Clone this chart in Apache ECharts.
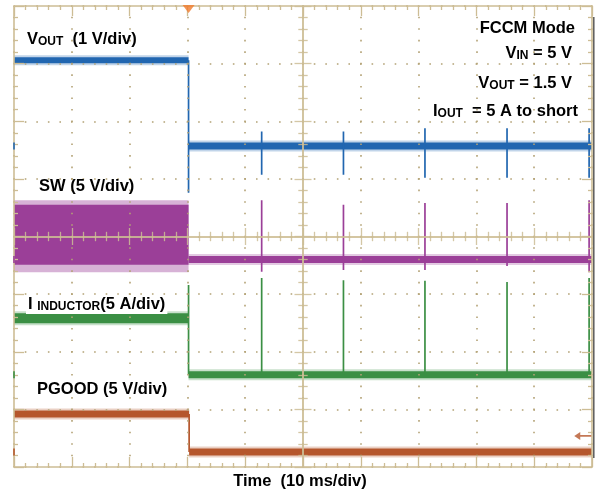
<!DOCTYPE html>
<html><head><meta charset="utf-8">
<script src="https://cdn.jsdelivr.net/npm/echarts@6/dist/echarts.min.js"></script>
<style>html,body{margin:0;padding:0;background:#fff}#c{width:595px;height:497px}</style>
</head><body><div id="c"></div>
<script>
// Horizontal axis: time in ms (10 ms/div). Vertical axis: screen divisions (center = 0).
const timeRangeMs = [0, 100];
const divRange = [-4, 4];
const channelNames = ['VOUT', 'SW', 'I_INDUCTOR', 'PGOOD'];
const stepTimeMs = [30.2, 30.2, 30.2, 30.3];
const levelBefore = [3.06, null, -1.42, -3.08];
const levelAfter = [1.57, -0.40, -2.40, -3.74];
const edgeExtreme = [0.76, null, -0.84, null];
const spikeTimesMs = [42.85, 57.0, 71.1, 85.3, 99.5];
const voutSpikeTop = [1.82, 1.82, 1.88, 1.88, 1.88];
const voutSpikeBottom = [1.07, 1.07, 1.02, 1.02, 1.02];
const swSpikeTop = [0.63, 0.55, 0.58, 0.58, 0.63];
const swSpikeBottom = [-0.61, -0.58, -0.58, -0.51, -0.62];
const iSpikeTop = [-0.72, -0.76, -0.77, -0.79, -0.72];
const swBandCore = [0.55, -0.49];
const swBandFringe = [0.63, -0.62];
const triggerTimeMs = [30.2];
const triggerLevelDiv = [-3.46];

const COLORS = ['#2166b0', '#9b3f98', '#3b8f44', '#b5562c'];
const TAN = '#cdbd95';
const DOT = '#b3a275';

const T0 = timeRangeMs[0], T1 = timeRangeMs[1];

function thick(i, width, before, halo) {
  const st = stepTimeMs[i];
  const data = before
    ? [[T0, levelBefore[i]], [st, levelBefore[i]]]
    : [[st, levelAfter[i]], [T1, levelAfter[i]]];
  return {
    type: 'line', data, symbol: 'none', silent: true, z: halo ? 1 : 2,
    lineStyle: { color: COLORS[i], width: halo ? width + 4 : width, cap: 'butt', opacity: halo ? 0.28 : 1 }
  };
}
function band(i, width, before) {
  return [thick(i, width, before, true), thick(i, width, before, false)];
}
function thin(i, data) {
  return {
    type: 'line', data, symbol: 'none', silent: true, z: 2, connectNulls: false,
    lineStyle: { color: COLORS[i], width: 1.7, cap: 'butt' }
  };
}
function spikeData(tops, bottoms, base) {
  const d = [];
  spikeTimesMs.forEach((t, k) => {
    d.push([t, tops[k]]);
    d.push([t, bottoms ? bottoms[k] : base]);
    d.push([t, null]);
  });
  return d;
}

const series = [];
// VOUT
series.push(...band(0, 6, true));
series.push(...band(0, 7, false));
series.push(thin(0, [[stepTimeMs[0], levelBefore[0]], [stepTimeMs[0], edgeExtreme[0]], [stepTimeMs[0], levelAfter[0]], [stepTimeMs[0], null]]
  .concat(spikeData(voutSpikeTop, voutSpikeBottom))));
// SW
const swAfter = band(1, 7, false);
swAfter[1].markArea = {
  silent: true, label: { show: false },
  data: [
    [{ coord: [T0, swBandFringe[0]], itemStyle: { color: COLORS[1], opacity: 0.4 } }, { coord: [stepTimeMs[1], swBandFringe[1]] }],
    [{ coord: [T0, swBandCore[0]], itemStyle: { color: COLORS[1], opacity: 1 } }, { coord: [stepTimeMs[1], swBandCore[1]] }]
  ]
};
series.push(...swAfter);
series.push(thin(1, spikeData(swSpikeTop, swSpikeBottom)));
// Inductor current
series.push(...band(2, 10, true));
series.push(...band(2, 7, false));
series.push(thin(2, [[stepTimeMs[2], levelBefore[2]], [stepTimeMs[2], edgeExtreme[2]], [stepTimeMs[2], levelAfter[2]], [stepTimeMs[2], null]]
  .concat(spikeData(iSpikeTop, null, levelAfter[2]))));
// PGOOD
series.push(...band(3, 7, true));
series.push(...band(3, 7, false));
series.push(thin(3, [[stepTimeMs[3], levelBefore[3]], [stepTimeMs[3], levelAfter[3]]]));
// channel ground markers on left edge
series.push({
  type: 'scatter', silent: true, clip: false, z: 4,
  symbol: 'rect', symbolSize: [2, 7],
  data: levelAfter.map((v, i) => ({ value: [T0, v], itemStyle: { color: COLORS[i] } }))
});
// trigger position marker (top) and trigger level arrow (right)
series.push({
  type: 'scatter', silent: true, clip: false, z: 4,
  symbol: 'triangle', symbolRotate: 180, symbolSize: [12, 8], symbolOffset: [0, 3],
  itemStyle: { color: '#f07a2c' },
  data: triggerTimeMs.map(t => [t, divRange[1]])
});
series.push({
  type: 'scatter', silent: true, clip: false, z: 4,
  symbol: 'path://M0,5 L6,0 L6,4 L17,4 L17,6 L6,6 L6,10 Z', symbolSize: [17, 8],
  itemStyle: { color: COLORS[3] },
  data: triggerLevelDiv.map(v => [98.4, v])
});

function borderAxis(dim, pos, withSplit) {
  const isX = dim === 'x';
  return {
    type: 'value', position: pos, z: 3,
    min: isX ? T0 : divRange[0], max: isX ? T1 : divRange[1], interval: isX ? 10 : 1,
    axisLine: { show: true, onZero: false, lineStyle: { color: TAN, width: 1.6 } },
    axisTick: { show: true, inside: true, length: 10, lineStyle: { color: TAN, width: 1.3 } },
    minorTick: { show: true, splitNumber: 5, length: 4, lineStyle: { color: TAN, width: 1.3 } },
    axisLabel: { show: false },
    splitLine: withSplit ? { show: true, lineStyle: { color: DOT, width: 1.6, type: isX ? [1.6, 9.925] : [1.6, 9.96], dashOffset: 0.8 } } : { show: false },
    minorSplitLine: { show: false }
  };
}
function crossAxis(dim, inside) {
  const isX = dim === 'x';
  return {
    type: 'value', position: isX ? 'bottom' : 'left', z: 3,
    min: isX ? -50 : divRange[0], max: isX ? 50 : divRange[1], interval: isX ? 10 : 1,
    axisLine: { show: true, onZero: true, onZeroAxisIndex: isX ? 0 : 2, lineStyle: { color: TAN, width: 1.6, opacity: 0.85 } },
    axisTick: { show: true, inside, length: 8.5, lineStyle: { color: TAN, width: 1.3, opacity: 0.85 } },
    minorTick: { show: true, splitNumber: 5, length: 4.7, lineStyle: { color: TAN, width: 1.3, opacity: 0.85 } },
    axisLabel: { show: false }, splitLine: { show: false }
  };
}

const rich = {
  b: { fontSize: 16.5, fontWeight: 'bold', fontFamily: 'Liberation Sans', lineHeight: 17, verticalAlign: 'bottom', color: '#111' },
  s: { fontSize: 12, fontWeight: 'bold', fontFamily: 'Liberation Sans', lineHeight: 12, verticalAlign: 'bottom', color: '#111' }
};
const labels = [
  { x: 27, y: 48, align: 'left', text: '{b|V}{s|OUT}{b|  (1 V/div)}' },
  { x: 575, y: 37, align: 'right', text: '{b|FCCM Mode}' },
  { x: 572, y: 62, align: 'right', text: '{b|V}{s|IN}{b| = 5 V}' },
  { x: 572, y: 92, align: 'right', text: '{b|V}{s|OUT}{b| = 1.5 V}' },
  { x: 578, y: 120, align: 'right', text: '{b|I}{s|OUT}{b|  = 5 A to short}' },
  { x: 39, y: 195, align: 'left', text: '{b|SW (5 V/div)}' },
  { x: 26, y: 314, align: 'left', text: '{b|I }{s|INDUCTOR}{b|(5 A/div)}', bg: true },
  { x: 37, y: 398, align: 'left', text: '{b|PGOOD (5 V/div)}' },
  { x: 300, y: 490, align: 'center', text: '{b|Time  (10 ms/div)}' }
];
const graphic = labels.map(l => ({
  type: 'text', x: l.x, y: l.y, z: 10, silent: true,
  style: Object.assign({ text: l.text, rich, align: l.align, verticalAlign: 'bottom' },
    l.bg ? { backgroundColor: '#fff', padding: [0, 2, 1, 2] } : {})
}));
graphic.push({ type: 'line', silent: true, z: 10, shape: { x1: 593.8, y1: 17, x2: 593.8, y2: 458 }, style: { stroke: '#5a5a5a', lineWidth: 1.5 } });

const chart = echarts.init(document.getElementById('c'), null, { renderer: 'canvas' });
chart.setOption({
  animation: false,
  backgroundColor: '#fff',
  grid: { left: 14, top: 6, width: 578, height: 461, containLabel: false },
  xAxis: [borderAxis('x', 'bottom', true), borderAxis('x', 'top', false), crossAxis('x', true), crossAxis('x', false)],
  yAxis: [borderAxis('y', 'left', true), borderAxis('y', 'right', false), crossAxis('y', true), crossAxis('y', false)],
  series,
  graphic
});
</script></body></html>
